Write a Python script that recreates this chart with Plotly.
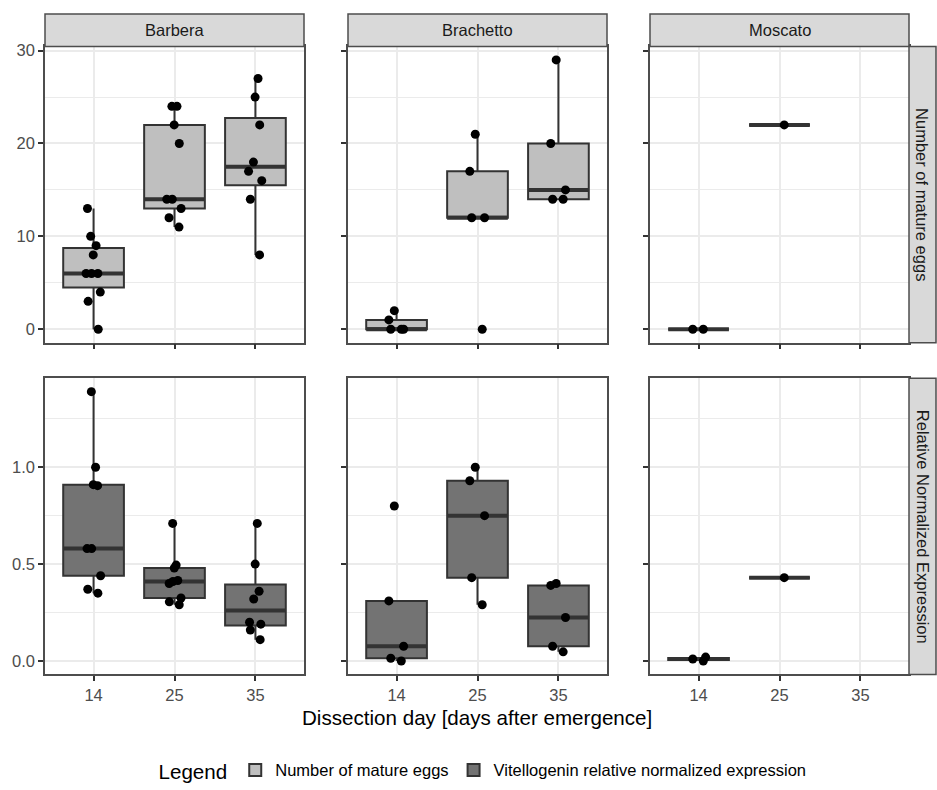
import numpy as np
import plotly.graph_objects as go

# ---------------- data ----------------
varieties = ["Barbera", "Brachetto", "Moscato"]
days = ["14", "25", "35"]
row_labels = ["Number of mature eggs", "Relative Normalized Expression"]
legend_names = ["Number of mature eggs", "Vitellogenin relative normalized expression"]

eggs_barbera_14 = [0, 3, 4, 6, 6, 6, 8, 9, 10, 13]
eggs_barbera_25 = [11, 12, 13, 14, 14, 20, 22, 24, 24]
eggs_barbera_35 = [8, 14, 16, 17, 18, 22, 25, 27]
eggs_brachetto_14 = [0, 0, 0, 1, 2]
eggs_brachetto_25 = [0, 12, 12, 17, 21]
eggs_brachetto_35 = [14, 14, 15, 20, 29]
eggs_moscato_14 = [0, 0]
eggs_moscato_25 = [22]
eggs_moscato_35 = []

vg_barbera_14 = [0.35, 0.37, 0.44, 0.58, 0.58, 0.905, 0.91, 1.00, 1.39]
vg_barbera_25 = [0.29, 0.305, 0.325, 0.40, 0.41, 0.415, 0.48, 0.495, 0.71]
vg_barbera_35 = [0.11, 0.16, 0.19, 0.20, 0.32, 0.36, 0.50, 0.71]
vg_brachetto_14 = [0.0, 0.014, 0.076, 0.31, 0.80]
vg_brachetto_25 = [0.29, 0.43, 0.75, 0.93, 1.00]
vg_brachetto_35 = [0.047, 0.076, 0.224, 0.39, 0.40]
vg_moscato_14 = [0.0, 0.01, 0.02]
vg_moscato_25 = [0.43]
vg_moscato_35 = []

eggs = [
    [eggs_barbera_14, eggs_barbera_25, eggs_barbera_35],
    [eggs_brachetto_14, eggs_brachetto_25, eggs_brachetto_35],
    [eggs_moscato_14, eggs_moscato_25, eggs_moscato_35],
]
vg = [
    [vg_barbera_14, vg_barbera_25, vg_barbera_35],
    [vg_brachetto_14, vg_brachetto_25, vg_brachetto_35],
    [vg_moscato_14, vg_moscato_25, vg_moscato_35],
]
rows_data = [eggs, vg]

# ---------------- style ----------------
W, H = 937, 790
FONT = "Liberation Sans, Arial, sans-serif"
fills = ["#BFBFBF", "#737373"]
BOXLINE = "#333333"
BORDER = "#4D4D4D"
GRID = "#EBEBEB"
TICKFONT = 16.5
TITLEFONT = 20.6
BOXW = 0.75

col_px = [(45, 304), (348, 607), (650, 909)]
row_px = [(42, 342), (378, 678)]
strip_top = (9, 42)
strip_right = (909, 936)


def px_x(p):
    return p / W


def px_y(p):
    return 1 - p / H


def stats(vals):
    v = np.asarray(vals, dtype=float)
    q1, med, q3 = np.percentile(v, [25, 50, 75])
    iqr = q3 - q1
    lo = v[v >= q1 - 1.5 * iqr].min()
    hi = v[v <= q3 + 1.5 * iqr].max()
    return q1, med, q3, lo, hi


fig = go.Figure()
layout = {}
shown = [False, False]

for r in range(2):
    allv = [x for var in rows_data[r] for g in var for x in g]
    lo_all, hi_all = min(allv), max(allv)
    pad = 0.05 * (hi_all - lo_all)
    yrange = [lo_all - pad, hi_all + pad]
    for c in range(3):
        k = r * 3 + c + 1
        xa = "x" if k == 1 else f"x{k}"
        ya = "y" if k == 1 else f"y{k}"
        for d in range(3):
            vals = rows_data[r][c][d]
            if len(vals) == 0:
                continue
            pos = d + 1
            q1, med, q3, lo, hi = stats(vals)
            fig.add_trace(go.Box(
                x=[pos], q1=[q1], median=[med], q3=[q3], lowerfence=[lo], upperfence=[hi],
                width=BOXW, whiskerwidth=0, fillcolor=fills[r],
                line=dict(color=BOXLINE, width=2),
                name=legend_names[r], legendgroup=legend_names[r],
                showlegend=not shown[r], xaxis=xa, yaxis=ya, hoverinfo="skip"))
            shown[r] = True
            # thick median bar (ggplot fatten)
            fig.add_trace(go.Box(
                x=[pos], q1=[med], median=[med], q3=[med], lowerfence=[med], upperfence=[med],
                width=BOXW, whiskerwidth=0, fillcolor="rgba(0,0,0,0)",
                line=dict(color=BOXLINE, width=4), showlegend=False,
                xaxis=xa, yaxis=ya, hoverinfo="skip"))
            # jittered points
            fig.add_trace(go.Box(
                x=[pos] * len(vals), y=vals, boxpoints="all", jitter=0.3, pointpos=0,
                width=BOXW, fillcolor="rgba(0,0,0,0)",
                line=dict(color="rgba(0,0,0,0)", width=0),
                marker=dict(color="black", size=9, line=dict(width=0)),
                showlegend=False, xaxis=xa, yaxis=ya))

        x0, x1 = col_px[c]
        y0, y1 = row_px[r]
        layout["xaxis" if k == 1 else f"xaxis{k}"] = dict(
            domain=[px_x(x0), px_x(x1)], anchor=ya, range=[0.4, 3.6],
            tickmode="array", tickvals=[1, 2, 3], ticktext=days,
            showticklabels=(r == 1), ticks="outside", ticklen=5, tickwidth=1.5,
            tickcolor=BOXLINE, showgrid=True, gridcolor=GRID, gridwidth=2,
            showline=True, mirror=True, linecolor=BORDER, linewidth=1.5,
            zeroline=False, tickfont=dict(size=TICKFONT, color="#4D4D4D"),
            fixedrange=True)
        if r == 0:
            ytick = dict(tick0=0, dtick=10, tickformat="d")
            yminor = dict(dtick=5, tick0=0, showgrid=True, gridcolor=GRID, gridwidth=1, ticks="")
        else:
            ytick = dict(tick0=0, dtick=0.5, tickformat=".1f")
            yminor = dict(dtick=0.25, tick0=0, showgrid=True, gridcolor=GRID, gridwidth=1, ticks="")
        layout["yaxis" if k == 1 else f"yaxis{k}"] = dict(
            domain=[px_y(y1), px_y(y0)], anchor=xa, range=yrange,
            tickmode="linear", **ytick, minor=yminor,
            showticklabels=(c == 0), ticks="outside", ticklen=5, tickwidth=1.5,
            tickcolor=BOXLINE, showgrid=True, gridcolor=GRID, gridwidth=2,
            showline=True, mirror=True, linecolor=BORDER, linewidth=1.5,
            zeroline=False, tickfont=dict(size=TICKFONT, color="#4D4D4D"),
            fixedrange=True)

shapes = []
annotations = []
for c in range(3):
    x0, x1 = col_px[c]
    shapes.append(dict(type="rect", xref="paper", yref="paper",
                       x0=px_x(x0), x1=px_x(x1), y0=px_y(strip_top[1]), y1=px_y(strip_top[0]),
                       fillcolor="#D9D9D9", line=dict(color=BORDER, width=1.5), layer="above"))
    annotations.append(dict(text=varieties[c], xref="paper", yref="paper",
                            x=px_x((x0 + x1) / 2), y=px_y(sum(strip_top) / 2),
                            xanchor="center", yanchor="middle", showarrow=False,
                            font=dict(size=TICKFONT, color="#1A1A1A")))
for r in range(2):
    y0, y1 = row_px[r]
    shapes.append(dict(type="rect", xref="paper", yref="paper",
                       x0=px_x(strip_right[0]), x1=px_x(strip_right[1]), y0=px_y(y1), y1=px_y(y0),
                       fillcolor="#D9D9D9", line=dict(color=BORDER, width=1.5), layer="above"))
    annotations.append(dict(text=row_labels[r], xref="paper", yref="paper",
                            x=px_x(sum(strip_right) / 2), y=px_y((y0 + y1) / 2),
                            xanchor="center", yanchor="middle", showarrow=False, textangle=90,
                            font=dict(size=TICKFONT, color="#1A1A1A")))
annotations.append(dict(text="Dissection day [days after emergence]", xref="paper", yref="paper",
                        x=px_x((col_px[0][0] + col_px[2][1]) / 2), y=px_y(722),
                        xanchor="center", yanchor="middle", showarrow=False,
                        font=dict(size=TITLEFONT, color="black")))

fig.update_layout(
    width=W, height=H, margin=dict(l=0, r=0, t=0, b=0),
    paper_bgcolor="white", plot_bgcolor="white",
    font=dict(family=FONT),
    boxmode="overlay", shapes=shapes, annotations=annotations,
    showlegend=True,
    legend=dict(orientation="h", x=px_x(484), xanchor="center", y=px_y(776), yanchor="middle",
                title=dict(text="Legend", font=dict(size=TITLEFONT, color="black"), side="left"),
                font=dict(size=TICKFONT, color="black"), bgcolor="rgba(0,0,0,0)"),
    **layout,
)

fig.write_html("out.html")
